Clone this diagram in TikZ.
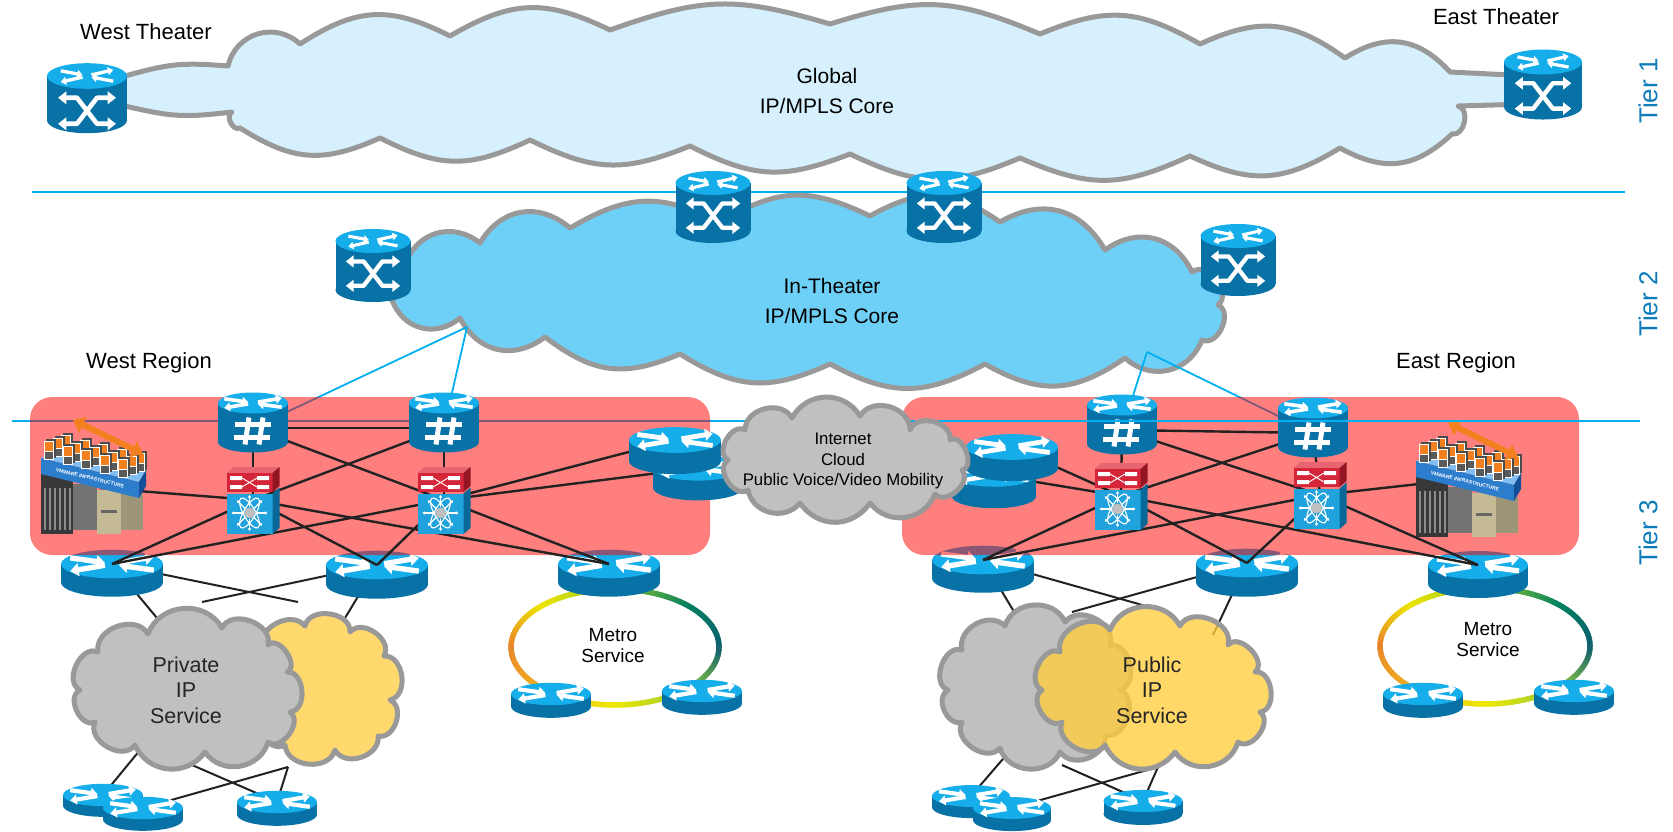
\documentclass[tikz,border=0pt]{standalone}
\usepackage{fontspec}
\setmainfont{Liberation Sans}
\usetikzlibrary{arrows.meta,calc}

% ---------- palette ----------
\definecolor{rtop}{RGB}{22,174,234}
\definecolor{rside}{RGB}{8,113,165}
\definecolor{cyanline}{RGB}{0,176,240}
\definecolor{tiertext}{RGB}{12,124,186}
\definecolor{cloudgray}{RGB}{153,153,153}
\definecolor{globalfill}{RGB}{214,241,253}
\definecolor{theaterfill}{RGB}{110,208,246}
\definecolor{grayfill}{RGB}{192,192,192}
\definecolor{yellowfill}{RGB}{255,217,110}
\definecolor{yellowglass}{RGB}{255,206,62}
\definecolor{swred}{RGB}{212,38,56}
\definecolor{swredtop}{RGB}{232,100,112}
\definecolor{swredside}{RGB}{148,22,36}
\definecolor{swblue}{RGB}{32,162,220}
\definecolor{swblueside}{RGB}{10,104,152}
\definecolor{linkblack}{RGB}{34,34,34}
\definecolor{vmorange}{RGB}{242,128,30}
\definecolor{vmslab}{RGB}{45,125,205}
\definecolor{vmslabtop}{RGB}{130,190,240}
\definecolor{vmslabside}{RGB}{20,78,150}
\definecolor{beige}{RGB}{196,186,150}
% metro ring gradient stops (every 45 degrees, starting at the right)
\definecolor{ring0}{RGB}{14,92,112}
\definecolor{ring1}{RGB}{0,128,96}
\definecolor{ring2}{RGB}{150,200,40}
\definecolor{ring3}{RGB}{236,228,0}
\definecolor{ring4}{RGB}{232,132,44}
\definecolor{ring5}{RGB}{240,176,30}
\definecolor{ring6}{RGB}{238,232,0}
\definecolor{ring7}{RGB}{140,198,63}
\definecolor{ring8}{RGB}{14,92,112}

% four arrows on the lid of a router
\newcommand\routerarrows{%
  \draw[rarrow] (-41,-6) -- (-7,-1.3);
  \draw[rarrow] (7,-1.3) -- (41,-7);
  \draw[rarrow] (-7,1.3) -- (-41,7);
  \draw[rarrow] (41,6) -- (7,1.3);
}

% metro ring: centre x, centre y, x radius, y radius
\newcommand\metroring[4]{%
  \foreach \ang in {0,3,...,357}{%
    \pgfmathtruncatemacro\rseg{\ang/45}%
    \pgfmathtruncatemacro\rpc{100-100*(\ang-45*\rseg)/45}%
    \pgfmathtruncatemacro\rnext{\rseg+1}%
    \colorlet{ringnow}{ring\rseg!\rpc!ring\rnext}%
    \draw[ringnow, line width=5.5, line cap=round]
      ({#1+#3*cos(\ang)},{#2-#4*sin(\ang)}) -- ({#1+#3*cos(\ang+3)},{#2-#4*sin(\ang+3)});
  }%
}

\tikzset{
  rarrow/.style={white, line width=\rs*5.2pt, -{Triangle[length=0pt 1.6, width=0pt 2.4]}},
  xarrow/.style={white, line width=\xs*4.6pt,
    {Triangle[length=0pt 1.8, width=0pt 2.7]}-{Triangle[length=0pt 1.8, width=0pt 2.7]}},
  sharpline/.style={white, line width=\xs*5pt},
  % flat router: width, total height; origin = centre of the lid
  pics/flatrouter/.style 2 args={code={
    \pgfmathsetmacro\rrx{#1/2}%
    \pgfmathsetmacro\rry{0.14*#1}%
    \pgfmathsetmacro\rhh{#2-2*\rry}%
    \pgfmathsetmacro\rs{#1/100}%
    \fill[rside] (0,\rhh) ellipse[x radius=\rrx, y radius=\rry];
    \fill[rside] (-\rrx,0) rectangle (\rrx,\rhh);
    \fill[rtop] (0,0) ellipse[x radius=\rrx, y radius=\rry];
    \begin{scope}[scale=\rs]\routerarrows\end{scope}
  }},
  % tall cross-connect router of the core clouds
  pics/tallrouter/.style 2 args={code={
    \pgfmathsetmacro\rrx{#1/2}%
    \pgfmathsetmacro\rry{0.16*#1}%
    \pgfmathsetmacro\rhh{#2-2*\rry}%
    \pgfmathsetmacro\rs{0.8*#1/100}%
    \pgfmathsetmacro\xs{#1/80}%
    \fill[rside] (0,\rhh) ellipse[x radius=\rrx, y radius=\rry];
    \fill[rside] (-\rrx,0) rectangle (\rrx,\rhh);
    \fill[rtop] (0,0) ellipse[x radius=\rrx, y radius=\rry];
    \begin{scope}[yscale=1.35, scale=\rs]\routerarrows\end{scope}
    \begin{scope}[shift={(0,\rry)}, scale=\xs]
      \draw[xarrow] (-29,9) -- (-10,9) -- (10,35) -- (29,35);
      \draw[xarrow] (-29,35) -- (-10,35) -- (10,9) -- (29,9);
    \end{scope}
  }},
  % router with firewall mark
  pics/sharprouter/.style 2 args={code={
    \pgfmathsetmacro\rrx{#1/2}%
    \pgfmathsetmacro\rry{0.15*#1}%
    \pgfmathsetmacro\rhh{#2-2*\rry}%
    \pgfmathsetmacro\rs{#1/100}%
    \pgfmathsetmacro\xs{#1/70}%
    \fill[rside] (0,\rhh) ellipse[x radius=\rrx, y radius=\rry];
    \fill[rside] (-\rrx,0) rectangle (\rrx,\rhh);
    \fill[rtop] (0,0) ellipse[x radius=\rrx, y radius=\rry];
    \begin{scope}[scale=\rs]\routerarrows\end{scope}
    \begin{scope}[shift={(0,\rry)}, scale=\xs]
      \draw[sharpline] (-4,4) -- (-8,31);
      \draw[sharpline] (10,4) -- (6,31);
      \draw[sharpline] (-18,11) -- (18,11);
      \draw[sharpline] (-19,24) -- (17,24);
    \end{scope}
  }},
  % two-tier data-centre switch; origin = centre
  pics/nexus/.style={code={
    \fill[swredtop] (-26.5,-27) -- (19.5,-27) -- (26.5,-33) -- (-19.5,-33) -- cycle;
    \fill[swred] (-26.5,-27) rectangle (19.5,-8);
    \fill[swredside] (19.5,-27) -- (26.5,-33) -- (26.5,-14) -- (19.5,-8) -- cycle;
    \fill[swblue] (-26.5,-6.5) rectangle (19.5,34);
    \fill[swblueside] (19.5,-6.5) -- (26.5,-12.5) -- (26.5,28) -- (19.5,34) -- cycle;
    \fill[white] (-23,-24) rectangle (-11,-20) (4,-24) rectangle (16,-20)
                 (-23,-15) rectangle (-11,-11) (4,-15) rectangle (16,-11);
    \draw[white, line width=0.9] (-11,-22) -- (4,-13) (-11,-13) -- (4,-22);
    \begin{scope}[shift={(-3.5,13)}]
      \draw[white, line width=1.1, rotate=60] (0,0) ellipse[x radius=17, y radius=6];
      \draw[white, line width=1.1, rotate=-60] (0,0) ellipse[x radius=17, y radius=6];
      \foreach \ang in {0,45,...,315}
        \draw[white, line width=1.1, -{Triangle[length=2.6pt, width=3.2pt]}] (\ang:6) -- (\ang:18);
      \fill[black!25] (0,0) circle[radius=5.5];
    \end{scope}
  }},
  % virtualised host cluster; origin = top-left corner
  pics/vmhost/.style={code={
    \fill[black!78] (2,52) rectangle (34,116);
    \foreach \vi in {0,...,5} \draw[black!45, line width=1.3] ({6+\vi*5},70) -- ({6+\vi*5},112);
    \fill[black!55] (34,66) rectangle (58,112);
    \fill[beige] (58,72) rectangle (82,116);
    \fill[black!60] (62,92) rectangle (78,95);
    \fill[beige!80!black] (82,76) rectangle (104,112);
    \fill[vmslabtop] (2,40) -- (28,31) -- (107,52) -- (100,64) -- cycle;
    \fill[vmslab] (2,40) -- (100,64) -- (100,80) -- (2,56) -- cycle;
    \fill[vmslabside] (100,64) -- (107,52) -- (107,68) -- (100,80) -- cycle;
    \node[rotate=-13.8, text=white, inner sep=0, font=\fontsize{5}{5}\selectfont\bfseries]
      (-tag) at (51,60) {VMWARE INFRASTRUCTURE};
    \foreach \vr in {0,1,2}{
      \foreach \vc in {0,...,4}{
        \pgfmathsetmacro\kx{10+18.5*\vc+8.7*(2-\vr)}
        \pgfmathsetmacro\ky{42+4.6*\vc-3*(2-\vr)}
        \fill[black!70] (\kx-3,\ky-21) rectangle (\kx+7,\ky-2);
        \fill[white] (\kx-5,\ky-19) rectangle (\kx+5,\ky);
        \fill[vmorange] (\kx-4,\ky-18) rectangle (\kx+4,\ky-9);
        \fill[black!65] (\kx-4,\ky-8) rectangle (\kx+4,\ky-1);
      }
    }
    \draw[vmorange, line width=6,
      {Triangle[length=11pt, width=17pt]}-{Triangle[length=11pt, width=17pt]}] (34,2) -- (104,36);
  }},
}

\begin{document}
\begin{tikzpicture}[x=1pt, y=-1pt, line join=round,
  pf/.style={bend left=#1, looseness=1.15},
  cloudedge/.style={draw=cloudgray, line width=5},
  tierline/.style={draw=cyanline, line width=2},
  uplink/.style={draw=cyanline, line width=1.8},
  mesh/.style={draw=linkblack, line width=2.4},
  drop/.style={draw=linkblack, line width=2},
  txt/.style={inner sep=0, align=center},
  theater/.style={txt, font=\fontsize{22}{26}\selectfont},
  coretitle/.style={txt, font=\fontsize{21}{30}\selectfont},
  smalltitle/.style={txt, font=\fontsize{16.8}{20.5}\selectfont},
  servicetitle/.style={txt, text=black!85, font=\fontsize{21.5}{25.5}\selectfont},
  metrotitle/.style={txt, font=\fontsize{19}{21}\selectfont},
  tier/.style={inner sep=0, rotate=90, text=tiertext, font=\fontsize{26}{30}\selectfont},
]
\useasboundingbox (0,0) rectangle (1673,832);
\fill[white] (0,0) rectangle (1673,832);

% ---------- positions ----------
\coordinate (WT) at (87,76);
\coordinate (ET) at (1543,62);
\coordinate (TA) at (373,241);
\coordinate (TB) at (713,183);
\coordinate (TC) at (944,183);
\coordinate (TD) at (1238,236);
\coordinate (R1) at (253,428);
\coordinate (R2) at (444,428);
\coordinate (ER1) at (1122,430);
\coordinate (ER2) at (1313,433);
\coordinate (SW1) at (253,500);
\coordinate (SW2) at (444,500);
\coordinate (ESW1) at (1121,496);
\coordinate (ESW2) at (1320,495);
\coordinate (ST1) at (675,440);
\coordinate (ST2) at (698,468);
\coordinate (EST1) at (1012,447);
\coordinate (EST2) at (994,475);
\coordinate (VMW) at (39,418);
\coordinate (VME) at (1414,421);
\coordinate (VMWport) at (100,488);
\coordinate (VMEport) at (1455,480);
\coordinate (L1) at (112,564);
\coordinate (L2) at (377,565);
\coordinate (M) at (609,564);
\coordinate (EL1) at (983,560);
\coordinate (EL2) at (1247,563);
\coordinate (EM) at (1478,565);
\coordinate (MBL) at (551,694);
\coordinate (MBR) at (702,691);
\coordinate (EMBL) at (1423,694);
\coordinate (EMBR) at (1574,691);
\coordinate (BA) at (103,795);
\coordinate (BB) at (143,808);
\coordinate (BC) at (277,802);
\coordinate (EBA) at (971,796);
\coordinate (EBB) at (1012,808);
\coordinate (EBC) at (1143,801);
\coordinate (P1) at (467,327);
\coordinate (P2) at (1147,352);
% attachment points on the service clouds
\coordinate (gW1) at (157,618);
\coordinate (yW1) at (298,602);
\coordinate (gW2) at (202,602);
\coordinate (yW2) at (342,623);
\coordinate (gW3) at (145,744);
\coordinate (gW4) at (192,765);
\coordinate (yW3) at (288,767);
\coordinate (gE1) at (1025,630);
\coordinate (yE1) at (1167,612);
\coordinate (gE2) at (1072,612);
\coordinate (yE2) at (1213,635);
\coordinate (gE3) at (1015,745);
\coordinate (gE4) at (1062,765);
\coordinate (yE3) at (1158,767);
% tier separators
\coordinate (sepAw) at (32,192);
\coordinate (sepAe) at (1625,192);
\coordinate (sepBw) at (12,421);
\coordinate (sepBm) at (900,421);
\coordinate (sepBe) at (1640,421);

% ---------- tier separators ----------
\draw[tierline] (sepAw) -- (sepAe);
\draw[tierline] (sepBw) -- (sepBe);

% ---------- tier 1: global core ----------
\draw[cloudedge, fill=globalfill] (80,78) -- (125,76)
  to[pf=10] (228,66) to[pf=60] (300,44) to[pf=30] (450,36) to[pf=28] (610,30)
  to[pf=18] (830,24) to[pf=20] (1040,34) to[pf=26] (1200,44) to[pf=30] (1345,58)
  to[pf=40] (1450,72) -- (1530,76) -- (1530,104) -- (1458,106)
  to[pf=90] (1452,134) to[pf=36] (1340,148) to[pf=28] (1190,156) to[pf=24] (1020,158)
  to[pf=24] (850,154) to[pf=24] (690,146) to[pf=24] (530,140) to[pf=26] (380,138)
  to[pf=28] (240,128) to[pf=90] (232,112) to[pf=10] (125,106) -- (80,106) -- cycle;
\pic at (WT) {tallrouter={80}{70}};
\pic at (ET) {tallrouter={78}{70}};

% ---------- tier 2: in-theater core ----------
\draw[cloudedge, fill=theaterfill] (392,300)
  to[pf=90] (405,265) to[pf=55] (480,243) to[pf=50] (570,228) to[pf=28] (720,222)
  to[pf=28] (870,216) to[pf=32] (1000,222) to[pf=45] (1105,250) to[pf=50] (1192,272)
  to[pf=90] (1218,305) to[pf=90] (1202,340) to[pf=55] (1125,358) to[pf=32] (985,364)
  to[pf=28] (830,364) to[pf=28] (680,354) to[pf=30] (545,337) to[pf=50] (460,318)
  to[pf=55] cycle;
\draw[uplink] (P1) -- (R1);
\draw[uplink] (P1) -- (R2);
\draw[uplink] (P2) -- (ER1);
\draw[uplink] (P2) -- (ER2);
\pic at (TA) {tallrouter={75}{73}};
\pic at (TB) {tallrouter={75}{72}};
\pic at (TC) {tallrouter={75}{72}};
\pic at (TD) {tallrouter={75}{72}};

% ---------- tier 3: access to the service clouds ----------
\draw[drop] (L1) -- (gW1);
\draw[drop] (L1) -- (yW1);
\draw[drop] (L2) -- (gW2);
\draw[drop] (L2) -- (yW2);
\draw[drop] (gW3) -- (BA);
\draw[drop] (gW4) -- (BC);
\draw[drop] (yW3) -- (BB);
\draw[drop] (yW3) -- (BC);
\draw[drop] (EL1) -- (gE1);
\draw[drop] (EL1) -- (yE1);
\draw[drop] (EL2) -- (gE2);
\draw[drop] (EL2) -- (yE2);
\draw[drop] (gE3) -- (EBA);
\draw[drop] (gE4) -- (EBC);
\draw[drop] (yE3) -- (EBB);
\draw[drop] (yE3) -- (EBC);

% west service clouds
\draw[cloudedge, fill=yellowfill] (262,650)
  to[pf=80] (305,626) to[pf=85] (350,632) to[pf=85] (384,656) to[pf=85] (390,700)
  to[pf=85] (378,736) to[pf=80] (335,750) to[pf=80] (285,745) to[pf=85] (262,712)
  to[pf=60] cycle;
\draw[cloudedge, fill=grayfill] (80,690)
  to[pf=90] (98,652) to[pf=80] (148,634) to[pf=65] (222,628) to[pf=85] (268,645)
  to[pf=100] (287,672) to[pf=90] (290,712) to[pf=90] (268,742) to[pf=65] (205,752)
  to[pf=60] (135,745) to[pf=85] (95,722) to[pf=90] cycle;
% east service clouds
\draw[cloudedge, fill=grayfill] (948,690)
  to[pf=90] (962,650) to[pf=75] (1005,626) to[pf=70] (1065,622) to[pf=80] (1110,645)
  to[pf=85] (1120,690) to[pf=85] (1105,735) to[pf=75] (1060,752) to[pf=70] (1000,748)
  to[pf=85] (962,722) to[pf=85] cycle;
\draw[cloudedge, fill=yellowglass, fill opacity=0.78] (1042,690)
  to[pf=90] (1060,652) to[pf=80] (1110,630) to[pf=65] (1180,626) to[pf=85] (1228,645)
  to[pf=95] (1255,672) to[pf=90] (1260,712) to[pf=90] (1238,742) to[pf=65] (1175,752)
  to[pf=60] (1105,745) to[pf=85] (1062,722) to[pf=90] cycle;

% metro rings
\metroring{615}{647}{104}{58}
\metroring{1485}{646}{105}{58}

% access and customer-edge routers
\pic at (L1) {flatrouter={102}{47}};
\pic at (L2) {flatrouter={102}{48}};
\pic at (M) {flatrouter={102}{47}};
\pic at (EL1) {flatrouter={102}{47}};
\pic at (EL2) {flatrouter={102}{48}};
\pic at (EM) {flatrouter={100}{47}};
\pic at (MBL) {flatrouter={80}{35}};
\pic at (MBR) {flatrouter={80}{35}};
\pic at (EMBL) {flatrouter={80}{35}};
\pic at (EMBR) {flatrouter={80}{35}};
\pic at (BA) {flatrouter={80}{33}};
\pic at (BB) {flatrouter={80}{34}};
\pic at (BC) {flatrouter={80}{35}};
\pic at (EBA) {flatrouter={78}{33}};
\pic at (EBB) {flatrouter={78}{34}};
\pic at (EBC) {flatrouter={79}{35}};

% ---------- regional aggregation areas ----------
\fill[red, opacity=0.5, rounded corners=22] (30,397) rectangle (710,555);
\fill[red, opacity=0.5, rounded corners=22] (902,397) rectangle (1579,555);

% west mesh
\draw[mesh] (R1) -- (R2);
\draw[mesh] (R1) -- (SW1);
\draw[mesh] (R2) -- (SW2);
\draw[mesh] (R1) -- (SW2);
\draw[mesh] (R2) -- (SW1);
\draw[mesh] (VMWport) -- (SW1);
\draw[mesh] (SW2) -- (ST1);
\draw[mesh] (SW2) -- (ST2);
\draw[mesh] (SW1) -- (L1);
\draw[mesh] (SW2) -- (L1);
\draw[mesh] (SW1) -- (L2);
\draw[mesh] (SW2) -- (L2);
\draw[mesh] (SW1) -- (M);
\draw[mesh] (SW2) -- (M);
% east mesh
\draw[mesh] (ER1) -- (ER2);
\draw[mesh] (ER1) -- (ESW1);
\draw[mesh] (ER2) -- (ESW2);
\draw[mesh] (ER1) -- (ESW2);
\draw[mesh] (ER2) -- (ESW1);
\draw[mesh] (ESW1) -- (EST1);
\draw[mesh] (ESW1) -- (EST2);
\draw[mesh] (ESW2) -- (VMEport);
\draw[mesh] (ESW1) -- (EL1);
\draw[mesh] (ESW2) -- (EL1);
\draw[mesh] (ESW1) -- (EL2);
\draw[mesh] (ESW2) -- (EL2);
\draw[mesh] (ESW1) -- (EM);
\draw[mesh] (ESW2) -- (EM);

% aggregation equipment
\pic at ($(R1)+(0,-25)$) {sharprouter={70}{60}};
\pic at ($(R2)+(0,-25)$) {sharprouter={70}{60}};
\pic at ($(ER1)+(0,-25)$) {sharprouter={70}{60}};
\pic at ($(ER2)+(0,-25)$) {sharprouter={70}{60}};
\pic at (SW1) {nexus};
\pic at (SW2) {nexus};
\pic at (ESW1) {nexus};
\pic at (ESW2) {nexus};
\pic at (VMW) {vmhost};
\pic at (VME) {vmhost};
\pic at (ST2) {flatrouter={90}{45}};
\pic at (ST1) {flatrouter={92}{47}};
\pic at (EST2) {flatrouter={84}{45}};
\pic at (EST1) {flatrouter={92}{47}};

% east part of the tier separator runs over its area
\draw[tierline] (sepBm) -- (sepBe);

% internet cloud
\draw[cloudedge, fill=grayfill] (728,460)
  to[pf=90] (745,430) to[pf=75] (792,418) to[pf=60] (860,416) to[pf=75] (910,430)
  to[pf=85] (950,440) to[pf=100] (962,470) to[pf=90] (935,494) to[pf=60] (870,503)
  to[pf=55] (800,503) to[pf=65] (748,490) to[pf=90] cycle;

% ---------- labels ----------
\node[theater] (lblWT) at (146,32) {West Theater};
\node[theater] (lblET) at (1496,17) {East Theater};
\node[coretitle] (lblGlobal) at (827,91) {Global\\IP/MPLS Core};
\node[coretitle] (lblTheater) at (832,301) {In-Theater\\IP/MPLS Core};
\node[theater] (lblWR) at (149,363) {West Region};
\node[theater] (lblER) at (1456,363) {East Region};
\node[smalltitle] (lblNet) at (843,461) {Internet\\Cloud\\Public Voice/Video Mobility};
\node[servicetitle] (lblPriv) at (186,690) {Private\\IP\\Service};
\node[servicetitle] (lblPub) at (1152,690) {Public\\IP\\Service};
\node[metrotitle] (lblMW) at (613,646) {Metro\\Service};
\node[metrotitle] (lblME) at (1488,640) {Metro\\Service};
\node[tier] (tier1) at (1648,91) {Tier 1};
\node[tier] (tier2) at (1648,304) {Tier 2};
\node[tier] (tier3) at (1648,533) {Tier 3};
\end{tikzpicture}
\end{document}
